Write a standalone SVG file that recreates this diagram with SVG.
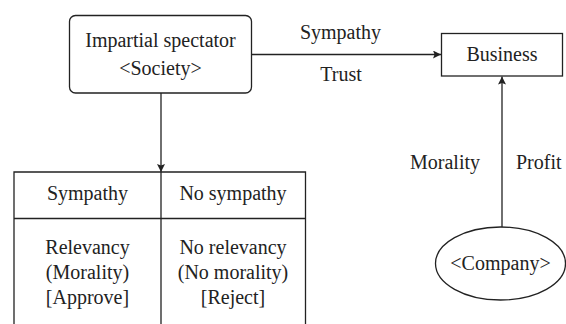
<svg xmlns="http://www.w3.org/2000/svg" width="566" height="324" viewBox="0 0 566 324">
<defs>
<style>
text{font-size:20px;fill:#222;text-anchor:middle}
.ln{stroke:#222;stroke-width:1.3;fill:none}
.nd{stroke:#222;stroke-width:1.3;fill:#fff}
</style>
<marker id="ah" viewBox="0 0 10 10" refX="10" refY="5" markerWidth="8" markerHeight="8" markerUnits="userSpaceOnUse" orient="auto">
<path d="M0,0 L10,5 L0,10 L2,5 Z" fill="#222"/>
</marker>
</defs>
<rect width="566" height="324" fill="#fff"/>
<g font-family="Liberation Serif, DejaVu Serif, serif">
<g id="connectors">
<line class="ln" x1="251.5" y1="54.5" x2="441" y2="54.5" marker-end="url(#ah)"/>
<line class="ln" x1="161" y1="93" x2="161" y2="172" marker-end="url(#ah)"/>
<line class="ln" x1="502" y1="227" x2="502" y2="76.5" marker-end="url(#ah)"/>
<text x="340.5" y="39">Sympathy</text>
<text x="341" y="80.5">Trust</text>
<text x="480" y="169" style="text-anchor:end">Morality</text>
<text x="516" y="169" style="text-anchor:start">Profit</text>
</g>
<g id="spectator">
<rect class="nd" x="69.5" y="15.5" width="182" height="77.5" rx="6"/>
<text x="160.5" y="47">Impartial spectator</text>
<text x="160.5" y="75">&lt;Society&gt;</text>
</g>
<g id="business">
<rect class="nd" x="441.5" y="33.5" width="121" height="42.5"/>
<text x="502" y="60.5">Business</text>
</g>
<g id="table">
<path class="ln" d="M14,324 V172 H305.5 V324 M14,218.5 H305.5 M161,172 V324"/>
<text x="87.5" y="200">Sympathy</text>
<text x="233" y="200">No sympathy</text>
<text x="87.5" y="254">Relevancy</text>
<text x="87.5" y="279">(Morality)</text>
<text x="87.5" y="304">[Approve]</text>
<text x="233" y="254">No relevancy</text>
<text x="233" y="279">(No morality)</text>
<text x="233" y="304">[Reject]</text>
</g>
<g id="company">
<ellipse class="nd" cx="500.5" cy="263.5" rx="65" ry="36.5"/>
<text x="500.5" y="269.5">&lt;Company&gt;</text>
</g>
</g>
</svg>
